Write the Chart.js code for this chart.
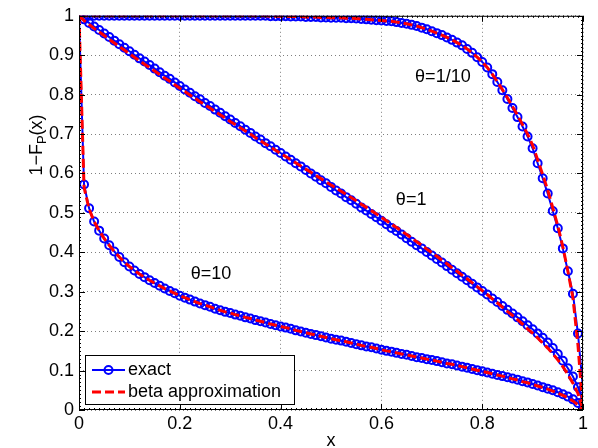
<!DOCTYPE html>
<html>
<head>
<meta charset="utf-8">
<script src="https://cdn.jsdelivr.net/npm/chart.js@4.4.0/dist/chart.umd.min.js"></script>
<style>
html, body { margin:0; padding:0; background:#fff; }
#wrap { width:598px; height:448px; }
</style>
</head>
<body>
<div id="wrap"><canvas id="my_Chart" width="598" height="448"></canvas></div>
<script>
// x grid shared by every curve
var xGrid = [
	0,0.01,0.02,0.03,0.04,0.05,0.06,0.07,0.08,0.09,
	0.1,0.11,0.12,0.13,0.14,0.15,0.16,0.17,0.18,0.19,
	0.2,0.21,0.22,0.23,0.24,0.25,0.26,0.27,0.28,0.29,
	0.3,0.31,0.32,0.33,0.34,0.35,0.36,0.37,0.38,0.39,
	0.4,0.41,0.42,0.43,0.44,0.45,0.46,0.47,0.48,0.49,
	0.5,0.51,0.52,0.53,0.54,0.55,0.56,0.57,0.58,0.59,
	0.6,0.61,0.62,0.63,0.64,0.65,0.66,0.67,0.68,0.69,
	0.7,0.71,0.72,0.73,0.74,0.75,0.76,0.77,0.78,0.79,
	0.8,0.81,0.82,0.83,0.84,0.85,0.86,0.87,0.88,0.89,
	0.9,0.91,0.92,0.93,0.94,0.95,0.96,0.97,0.98,0.99,
	1
];

// theta = 1/10
var exactTenth = [
	1,1,1,1,1,1,1,1,1,1,
	1,1,1,1,1,1,1,1,1,1,
	1,1,1,1,1,1,1,1,1,1,
	1,1,1,1,1,1,1,1,0.999,0.999,
	0.999,0.999,0.998,0.998,0.998,0.997,0.997,0.997,0.996,0.996,
	0.995,0.995,0.995,0.994,0.994,0.993,0.992,0.991,0.990,0.989,
	0.988,0.987,0.986,0.984,0.982,0.980,0.977,0.974,0.970,0.966,
	0.961,0.956,0.951,0.945,0.939,0.932,0.925,0.916,0.906,0.895,
	0.883,0.869,0.852,0.832,0.811,0.789,0.766,0.743,0.719,0.694,
	0.664,0.626,0.588,0.549,0.505,0.461,0.410,0.352,0.295,0.194,
	0.053
];
var betaTenth = [
	1,1,1,1,1,1,1,1,1,1,
	1,1,1,1,1,1,1,1,1,1,
	1,1,1,1,1,1,1,1,1,1,
	1,1,1,1,1,1,1,1,0.999,0.999,
	0.999,0.999,0.998,0.998,0.998,0.997,0.997,0.997,0.996,0.996,
	0.995,0.995,0.995,0.994,0.994,0.993,0.992,0.991,0.990,0.989,
	0.988,0.987,0.986,0.984,0.982,0.980,0.977,0.974,0.970,0.966,
	0.961,0.956,0.951,0.945,0.939,0.932,0.925,0.916,0.906,0.895,
	0.883,0.869,0.852,0.833,0.813,0.792,0.770,0.748,0.724,0.700,
	0.672,0.635,0.597,0.558,0.513,0.467,0.414,0.352,0.285,0.165,
	0
];

// theta = 1
var exactOne = [
	1,0.991,0.982,0.973,0.964,0.955,0.946,0.937,0.928,0.919,
	0.910,0.901,0.892,0.884,0.875,0.866,0.857,0.848,0.840,0.831,
	0.822,0.813,0.805,0.796,0.788,0.779,0.771,0.762,0.754,0.745,
	0.737,0.728,0.720,0.711,0.703,0.694,0.686,0.677,0.669,0.660,
	0.652,0.643,0.635,0.626,0.618,0.609,0.600,0.592,0.583,0.575,
	0.566,0.557,0.549,0.540,0.532,0.523,0.514,0.506,0.497,0.489,
	0.480,0.471,0.462,0.454,0.445,0.436,0.427,0.418,0.410,0.401,
	0.392,0.383,0.374,0.365,0.356,0.347,0.338,0.329,0.320,0.311,
	0.302,0.293,0.283,0.274,0.264,0.254,0.245,0.235,0.225,0.215,
	0.205,0.194,0.183,0.171,0.157,0.142,0.125,0.106,0.085,0.058,
	0.020
];
var betaOne = [
	1,0.988,0.978,0.968,0.959,0.950,0.940,0.931,0.922,0.913,
	0.904,0.895,0.886,0.877,0.869,0.860,0.851,0.842,0.834,0.825,
	0.816,0.808,0.799,0.791,0.782,0.774,0.766,0.757,0.749,0.741,
	0.732,0.724,0.716,0.708,0.700,0.691,0.683,0.675,0.667,0.659,
	0.651,0.643,0.635,0.627,0.619,0.611,0.603,0.595,0.587,0.579,
	0.571,0.563,0.555,0.547,0.539,0.531,0.522,0.514,0.506,0.497,
	0.489,0.480,0.471,0.463,0.454,0.445,0.436,0.427,0.418,0.408,
	0.399,0.390,0.380,0.371,0.361,0.352,0.342,0.333,0.323,0.313,
	0.303,0.293,0.282,0.272,0.261,0.250,0.240,0.229,0.218,0.206,
	0.195,0.183,0.170,0.157,0.143,0.127,0.110,0.090,0.068,0.042,
	0
];

// theta = 10
var exactTen = [
	1,0.572,0.512,0.478,0.455,0.435,0.418,0.402,0.388,0.375,
	0.364,0.354,0.345,0.337,0.329,0.322,0.315,0.308,0.302,0.296,
	0.290,0.285,0.280,0.275,0.270,0.266,0.262,0.257,0.253,0.249,
	0.246,0.242,0.239,0.235,0.232,0.228,0.225,0.222,0.218,0.215,
	0.212,0.209,0.206,0.202,0.199,0.196,0.193,0.190,0.187,0.184,
	0.181,0.178,0.176,0.173,0.170,0.167,0.164,0.161,0.159,0.156,
	0.153,0.150,0.148,0.145,0.142,0.140,0.137,0.134,0.132,0.129,
	0.127,0.124,0.121,0.118,0.116,0.113,0.110,0.107,0.104,0.101,
	0.098,0.095,0.092,0.089,0.086,0.083,0.080,0.077,0.073,0.070,
	0.066,0.062,0.058,0.054,0.050,0.045,0.040,0.034,0.027,0.018,
	0.005
];
var betaTen = [
	1,0.565,0.510,0.478,0.455,0.435,0.418,0.402,0.388,0.375,
	0.364,0.354,0.345,0.337,0.329,0.322,0.315,0.308,0.302,0.296,
	0.290,0.285,0.280,0.275,0.270,0.266,0.262,0.257,0.253,0.249,
	0.246,0.242,0.239,0.235,0.232,0.228,0.225,0.222,0.218,0.215,
	0.212,0.209,0.206,0.202,0.199,0.196,0.193,0.190,0.187,0.184,
	0.181,0.178,0.176,0.173,0.170,0.167,0.164,0.161,0.159,0.156,
	0.153,0.150,0.148,0.145,0.142,0.140,0.137,0.134,0.132,0.129,
	0.127,0.124,0.121,0.118,0.116,0.113,0.110,0.107,0.104,0.101,
	0.098,0.095,0.092,0.089,0.086,0.082,0.079,0.076,0.072,0.069,
	0.065,0.061,0.057,0.053,0.048,0.043,0.037,0.031,0.023,0.013,
	0
];

var curveLabels = ['\u03b8=1/10', '\u03b8=1', '\u03b8=10'];
var legendLabels = ['exact', 'beta approximation'];

var FAMILY = '"Liberation Sans", Arial, Helvetica, sans-serif';
var BLUE = '#0000ff';
var RED = '#ff0000';

function toPoints(ys){
	return ys.map(function(y, i){ return {x: xGrid[i], y: y}; });
}

function exactSet(ys){
	return {
		data: toPoints(ys),
		borderColor: BLUE,
		borderWidth: 2,
		pointStyle: 'circle',
		pointRadius: 4,
		pointBorderWidth: 2,
		pointBorderColor: BLUE,
		pointBackgroundColor: 'rgba(0,0,0,0)',
		tension: 0,
		fill: false,
		order: 2
	};
}
function betaSet(ys){
	return {
		data: toPoints(ys),
		borderColor: RED,
		borderWidth: 3,
		borderDash: [9, 4],
		pointRadius: 0,
		tension: 0,
		fill: false,
		order: 1
	};
}

// box, ticks, text labels, legend, axis titles
var decorPlugin = {
	id: 'decor',
	afterDatasetsDraw: function(chart){
		var c = chart.ctx, a = chart.chartArea;
		var sx = chart.scales.x, sy = chart.scales.y;
		c.save();

		// axes box
		c.strokeStyle = '#000';
		c.lineWidth = 1;
		c.setLineDash([]);
		c.strokeRect(a.left + 0.5, a.top + 0.5, a.right - a.left - 1, a.bottom - a.top - 1);

		// minor + major ticks
		c.beginPath();
		var i, px, py, len;
		for(i = 0; i <= 100; i++){
			px = Math.round(sx.getPixelForValue(i / 100)) + 0.5;
			len = (i % 20 === 0) ? 6 : 2;
			c.moveTo(px, a.bottom); c.lineTo(px, a.bottom - len);
			c.moveTo(px, a.top); c.lineTo(px, a.top + len);
			py = Math.round(sy.getPixelForValue(i / 100)) + 0.5;
			len = (i % 10 === 0) ? 6 : 2;
			c.moveTo(a.left, py); c.lineTo(a.left + len, py);
			c.moveTo(a.right, py); c.lineTo(a.right - len, py);
		}
		c.stroke();

		// curve labels
		c.fillStyle = '#000';
		c.font = '18px ' + FAMILY;
		c.textAlign = 'center';
		c.textBaseline = 'middle';
		c.fillText(curveLabels[0], sx.getPixelForValue(0.722), sy.getPixelForValue(0.845));
		c.fillText(curveLabels[1], sx.getPixelForValue(0.659), sy.getPixelForValue(0.533));
		c.fillText(curveLabels[2], sx.getPixelForValue(0.262), sy.getPixelForValue(0.346));

		// legend
		c.fillStyle = '#fff';
		c.fillRect(85, 355, 210, 50);
		c.strokeStyle = '#000';
		c.lineWidth = 1;
		c.strokeRect(85.5, 355.5, 209, 49);

		c.strokeStyle = BLUE;
		c.lineWidth = 2;
		c.beginPath(); c.moveTo(92, 370); c.lineTo(125, 370); c.stroke();
		c.beginPath(); c.arc(108.5, 370, 4, 0, Math.PI * 2); c.stroke();

		c.strokeStyle = RED;
		c.lineWidth = 3;
		c.setLineDash([9, 4]);
		c.beginPath(); c.moveTo(92, 392); c.lineTo(125, 392); c.stroke();
		c.setLineDash([]);

		c.fillStyle = '#000';
		c.textAlign = 'left';
		c.fillText(legendLabels[0], 128, 370);
		c.fillText(legendLabels[1], 128, 392);

		// x title
		c.textAlign = 'center';
		c.fillText('x', (a.left + a.right) / 2, 441);

		// y title 1-F_P(x), rotated
		c.translate(36, 145);
		c.rotate(-Math.PI / 2);
		var s1 = '1\u2212F', s2 = 'P', s3 = '(x)';
		c.font = '18px ' + FAMILY;
		var w1 = c.measureText(s1).width, w3 = c.measureText(s3).width;
		c.font = '13px ' + FAMILY;
		var w2 = c.measureText(s2).width;
		var x0 = -(w1 + w2 + w3) / 2;
		c.textAlign = 'left';
		c.textBaseline = 'alphabetic';
		c.font = '18px ' + FAMILY;
		c.fillText(s1, x0, 6);
		c.font = '13px ' + FAMILY;
		c.fillText(s2, x0 + w1, 10);
		c.font = '18px ' + FAMILY;
		c.fillText(s3, x0 + w1 + w2, 6);

		c.restore();
	}
};

var ctx = document.getElementById('my_Chart').getContext('2d');
var myChart = new Chart(ctx, {
	type: 'line',
	data: {
		datasets: [
			exactSet(exactTenth), exactSet(exactOne), exactSet(exactTen),
			betaSet(betaTenth), betaSet(betaOne), betaSet(betaTen)
		]
	},
	options: {
		responsive: false,
		animation: false,
		events: [],
		layout: { padding: { top: 13, right: 15, left: 0, bottom: 0 } },
		plugins: {
			legend: { display: false },
			tooltip: { enabled: false }
		},
		scales: {
			x: {
				type: 'linear',
				min: 0,
				max: 1,
				afterFit: function(s){ s.height = 38; },
				ticks: {
					stepSize: 0.2,
					color: '#000',
					padding: 3,
					maxRotation: 0,
					font: { family: FAMILY, size: 18 },
					callback: function(v){ return +v.toFixed(1); }
				},
				grid: { color: 'rgba(0,0,0,0.5)', lineWidth: 1, drawTicks: false },
				border: { display: false, dash: [1, 3] }
			},
			y: {
				type: 'linear',
				min: 0,
				max: 1,
				afterFit: function(s){ s.width = 79; },
				ticks: {
					stepSize: 0.1,
					color: '#000',
					padding: 5,
					font: { family: FAMILY, size: 18 },
					callback: function(v){ return +v.toFixed(1); }
				},
				grid: { color: 'rgba(0,0,0,0.5)', lineWidth: 1, drawTicks: false },
				border: { display: false, dash: [1, 3] }
			}
		}
	},
	plugins: [decorPlugin]
});
</script>
</body>
</html>
